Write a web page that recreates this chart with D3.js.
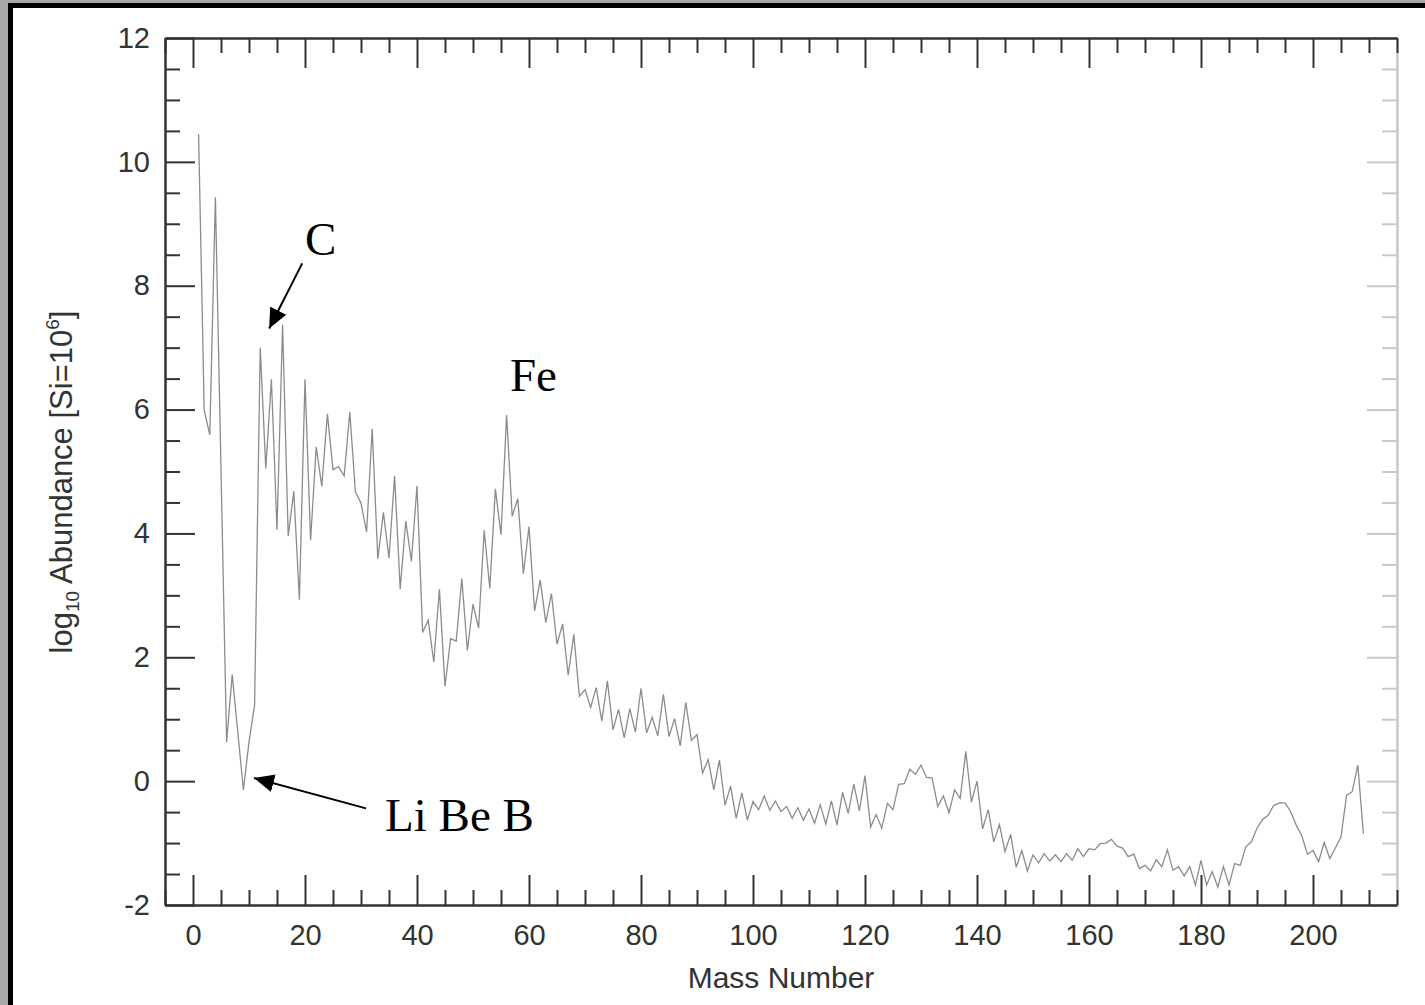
<!DOCTYPE html>
<html>
<head>
<meta charset="utf-8">
<script src="https://cdn.jsdelivr.net/npm/d3@7"></script>
<style>
  html, body { margin: 0; padding: 0; background: #a8a8a8; }
  svg { display: block; }
</style>
</head>
<body>
<script>
// mass numbers (5 and 8 have no stable nuclide, so they are absent)
const massNumber = [
  1, 2, 3, 4, 6, 7,
  9, 10, 11, 12, 13, 14, 15, 16, 17, 18, 19, 20,
  21, 22, 23, 24, 25, 26, 27, 28, 29, 30, 31, 32, 33, 34, 35, 36, 37, 38, 39, 40,
  41, 42, 43, 44, 45, 46, 47, 48, 49, 50, 51, 52, 53, 54, 55, 56, 57, 58, 59, 60,
  61, 62, 63, 64, 65, 66, 67, 68, 69, 70, 71, 72, 73, 74, 75, 76, 77, 78, 79, 80,
  81, 82, 83, 84, 85, 86, 87, 88, 89, 90, 91, 92, 93, 94, 95, 96, 97, 98, 99, 100,
  101, 102, 103, 104, 105, 106, 107, 108, 109, 110, 111, 112, 113, 114, 115, 116, 117, 118, 119, 120,
  121, 122, 123, 124, 125, 126, 127, 128, 129, 130, 131, 132, 133, 134, 135, 136, 137, 138, 139, 140,
  141, 142, 143, 144, 145, 146, 147, 148, 149, 150, 151, 152, 153, 154, 155, 156, 157, 158, 159, 160,
  161, 162, 163, 164, 165, 166, 167, 168, 169, 170, 171, 172, 173, 174, 175, 176, 177, 178, 179, 180,
  181, 182, 183, 184, 185, 186, 187, 188, 189, 190, 191, 192, 193, 194, 195, 196, 197, 198, 199, 200,
  201, 202, 203, 204, 205, 206, 207, 208, 209
];

// log10 abundance, normalised to Si = 10^6
const logAbundance = [
  10.45, 5.99, 5.59, 9.43, 0.63, 1.72,
  -0.14, 0.63, 1.23, 7.00, 5.05, 6.49, 4.06, 7.37, 3.96, 4.68, 2.93, 6.49,
  3.89, 5.40, 4.76, 5.93, 5.03, 5.08, 4.93, 5.96, 4.67, 4.49, 4.02, 5.69, 3.59, 4.34, 3.60, 4.93, 3.10, 4.20, 3.55, 4.77,
  2.40, 2.60, 1.92, 3.10, 1.53, 2.30, 2.26, 3.27, 2.11, 2.86, 2.47, 4.05, 3.11, 4.72, 3.98, 5.91, 4.28, 4.56, 3.35, 4.11,
  2.75, 3.25, 2.56, 3.03, 2.21, 2.54, 1.71, 2.37, 1.37, 1.48, 1.19, 1.51, 0.97, 1.62, 0.83, 1.16, 0.70, 1.17, 0.79, 1.50,
  0.78, 1.03, 0.73, 1.40, 0.72, 1.01, 0.57, 1.27, 0.66, 0.75, 0.13, 0.35, -0.14, 0.34, -0.39, -0.08, -0.60, -0.19, -0.63, -0.33,
  -0.46, -0.24, -0.47, -0.32, -0.49, -0.41, -0.60, -0.43, -0.63, -0.45, -0.68, -0.38, -0.69, -0.32, -0.71, -0.18, -0.52, -0.05, -0.48, 0.09,
  -0.74, -0.54, -0.76, -0.36, -0.46, -0.05, -0.04, 0.19, 0.11, 0.26, 0.06, 0.05, -0.41, -0.24, -0.51, -0.14, -0.28, 0.48, -0.34, 0.00,
  -0.77, -0.46, -0.98, -0.70, -1.14, -0.86, -1.39, -1.12, -1.45, -1.19, -1.32, -1.17, -1.29, -1.19, -1.30, -1.17, -1.28, -1.09, -1.22, -1.09,
  -1.11, -1.01, -1.00, -0.94, -1.05, -1.08, -1.22, -1.18, -1.41, -1.36, -1.45, -1.27, -1.38, -1.11, -1.44, -1.38, -1.53, -1.38, -1.68, -1.28,
  -1.68, -1.46, -1.71, -1.38, -1.68, -1.33, -1.36, -1.06, -0.98, -0.76, -0.62, -0.55, -0.39, -0.35, -0.35, -0.49, -0.71, -0.88, -1.18, -1.12,
  -1.30, -0.99, -1.25, -1.08, -0.90, -0.23, -0.17, 0.26, -0.85
];

const xMajorTicks = [0, 20, 40, 60, 80, 100, 120, 140, 160, 180, 200];
const xMinorTicks = [-5, 5, 10, 15, 25, 30, 35, 45, 50, 55, 65, 70, 75, 85, 90, 95, 105, 110, 115,
  125, 130, 135, 145, 150, 155, 165, 170, 175, 185, 190, 195, 205, 210, 215];
const yMajorTicks = [-2, 0, 2, 4, 6, 8, 10, 12];
const yMinorTicks = [-1.5, -1, -0.5, 0.5, 1, 1.5, 2.5, 3, 3.5, 4.5, 5, 5.5, 6.5, 7, 7.5,
  8.5, 9, 9.5, 10.5, 11, 11.5];

// annotation text and arrows, in data units
const labels = [
  { text: "C", x: 20.0, y: 8.50 },
  { text: "Fe", x: 56.6, y: 6.30 },
  { text: "Li Be B", x: 34.3, y: -0.81 }
];
const arrows = [
  { from: [19.5, 8.36], to: [13.6, 7.31] },
  { from: [30.9, -0.44], to: [10.9, 0.05] }
];

const width = 1425, height = 1005;
const sans = "'Liberation Sans', Arial, sans-serif";
const serif = "'Liberation Serif', 'Times New Roman', serif";

const svg = d3.select("body").append("svg")
  .attr("width", width)
  .attr("height", height);

// frame: grey strip, black border, white page
svg.append("rect").attr("width", width).attr("height", height).attr("fill", "#a8a8a8");
svg.append("rect").attr("x", 8).attr("y", 3).attr("width", width).attr("height", height).attr("fill", "#000");
svg.append("rect").attr("x", 13).attr("y", 8).attr("width", width).attr("height", height).attr("fill", "#fff");

const x = d3.scaleLinear().domain([-5, 215]).range([165, 1397]);
const y = d3.scaleLinear().domain([-2, 12]).range([905, 38]);

function styleAxis(g, color) {
  g.select(".domain").attr("stroke", color).attr("stroke-width", 2);
  g.selectAll(".tick line").attr("stroke", color).attr("stroke-width", 2);
  g.selectAll(".tick text")
    .attr("fill", "#333")
    .attr("font-family", sans)
    .attr("font-size", 29);
}

// right axis first (light grey), so the dark frame sits over it
const rightAxis = svg.append("g").attr("transform", "translate(1397,0)");
rightAxis.append("g").call(d3.axisRight(y).tickValues(yMajorTicks).tickSizeInner(-30).tickSizeOuter(0).tickFormat(""))
  .call(g => styleAxis(g, "#c8c8c8"));
rightAxis.append("g").call(d3.axisRight(y).tickValues(yMinorTicks).tickSizeInner(-15).tickSizeOuter(0).tickFormat(""))
  .call(g => styleAxis(g, "#c8c8c8"));

const topAxis = svg.append("g").attr("transform", "translate(0,38)");
topAxis.append("g").call(d3.axisTop(x).tickValues(xMajorTicks).tickSizeInner(-30).tickSizeOuter(0).tickFormat(""))
  .call(g => styleAxis(g, "#333"));
topAxis.append("g").call(d3.axisTop(x).tickValues(xMinorTicks).tickSizeInner(-15).tickSizeOuter(0).tickFormat(""))
  .call(g => styleAxis(g, "#333"));

const bottomAxis = svg.append("g").attr("transform", "translate(0,905)");
bottomAxis.append("g").call(d3.axisBottom(x).tickValues(xMajorTicks).tickSizeInner(-30).tickSizeOuter(0)
    .tickPadding(19).tickFormat(d => String(d)))
  .call(g => styleAxis(g, "#333"));
bottomAxis.append("g").call(d3.axisBottom(x).tickValues(xMinorTicks).tickSizeInner(-15).tickSizeOuter(0).tickFormat(""))
  .call(g => styleAxis(g, "#333"));

const leftAxis = svg.append("g").attr("transform", "translate(165,0)");
leftAxis.append("g").call(d3.axisLeft(y).tickValues(yMajorTicks).tickSizeInner(-30).tickSizeOuter(0)
    .tickPadding(15).tickFormat(d => String(d)))
  .call(g => styleAxis(g, "#333"));
leftAxis.append("g").call(d3.axisLeft(y).tickValues(yMinorTicks).tickSizeInner(-15).tickSizeOuter(0).tickFormat(""))
  .call(g => styleAxis(g, "#333"));

// abundance curve
const points = massNumber.map((a, i) => [a, logAbundance[i]]);
svg.append("path")
  .datum(points)
  .attr("fill", "none")
  .attr("stroke", "#8c8c8c")
  .attr("stroke-width", 1.3)
  .attr("stroke-linejoin", "miter")
  .attr("d", d3.line().x(d => x(d[0])).y(d => y(d[1])));

// axis titles
svg.append("text")
  .attr("x", 781).attr("y", 988)
  .attr("text-anchor", "middle")
  .attr("font-family", sans).attr("font-size", 30).attr("fill", "#333")
  .text("Mass Number");

const ytitle = svg.append("text")
  .attr("transform", "translate(72,482) rotate(-90)")
  .attr("text-anchor", "middle")
  .attr("font-family", sans).attr("font-size", 31).attr("fill", "#333");
ytitle.append("tspan").text("log");
ytitle.append("tspan").attr("font-size", 19).attr("dy", 7).text("10");
ytitle.append("tspan").attr("dy", -7).text(" Abundance [Si=10");
ytitle.append("tspan").attr("font-size", 19).attr("dy", -13).text("6");
ytitle.append("tspan").attr("dy", 13).text("]");

// annotations
svg.append("defs").append("marker")
  .attr("id", "head")
  .attr("markerUnits", "userSpaceOnUse")
  .attr("viewBox", "0 -10 20 20")
  .attr("refX", 20).attr("refY", 0)
  .attr("markerWidth", 20).attr("markerHeight", 20)
  .attr("orient", "auto")
  .append("path").attr("d", "M0,-9L20,0L0,9Z").attr("fill", "#000");

svg.selectAll("line.arrow")
  .data(arrows)
  .join("line")
  .attr("class", "arrow")
  .attr("x1", d => x(d.from[0])).attr("y1", d => y(d.from[1]))
  .attr("x2", d => x(d.to[0])).attr("y2", d => y(d.to[1]))
  .attr("stroke", "#000").attr("stroke-width", 2)
  .attr("marker-end", "url(#head)");

svg.selectAll("text.note")
  .data(labels)
  .join("text")
  .attr("class", "note")
  .attr("x", d => x(d.x)).attr("y", d => y(d.y))
  .attr("font-family", serif).attr("font-size", 47).attr("fill", "#000")
  .text(d => d.text);
</script>
</body>
</html>
